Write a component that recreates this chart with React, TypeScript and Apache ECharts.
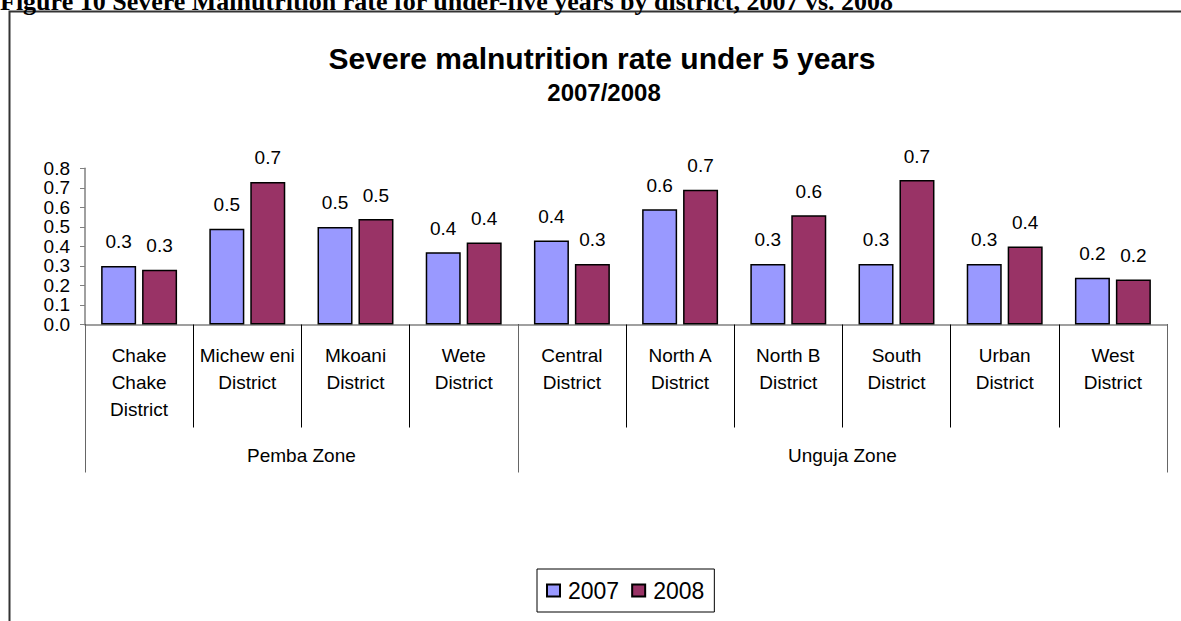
import React, { useEffect, useRef } from "react";
import * as echarts from "echarts";

const caption = "Figure 10 Severe Malnutrition rate for under-five years by district, 2007 vs. 2008";
const chartTitle = "Severe malnutrition rate under 5 years";
const chartSubtitle = "2007/2008";
const districts = [
  "Chake\nChake\nDistrict",
  "Michew eni\nDistrict",
  "Mkoani\nDistrict",
  "Wete\nDistrict",
  "Central\nDistrict",
  "North A\nDistrict",
  "North B\nDistrict",
  "South\nDistrict",
  "Urban\nDistrict",
  "West\nDistrict",
];
const zones = ["Pemba Zone", "Unguja Zone"];
const zoneSizes = [4, 6];
const seriesNames = ["2007", "2008"];
const values2007 = [0.3, 0.49, 0.5, 0.37, 0.43, 0.59, 0.31, 0.31, 0.31, 0.24];
const values2008 = [0.28, 0.73, 0.54, 0.42, 0.31, 0.69, 0.56, 0.74, 0.4, 0.23];
const yMin = 0;
const yMax = 0.8;
const yStep = 0.1;

const FONT = "'Liberation Sans', Arial, sans-serif";

export default function App() {
  const ref = useRef<HTMLDivElement>(null);
  useEffect(() => {
    if (!ref.current) return;
    const chart = echarts.init(ref.current, null, { renderer: "svg" });

    const zoneBounds: number[] = [0];
    const zoneCenters: number[] = [];
    zoneSizes.forEach((s) => {
      const start = zoneBounds[zoneBounds.length - 1];
      zoneCenters.push(start + s / 2);
      zoneBounds.push(start + s);
    });

    const labelStyle = {
      show: true,
      position: "top" as const,
      distance: 14,
      color: "#000",
      fontFamily: FONT,
      fontSize: 19,
      lineHeight: 20,
      formatter: (p: any) => Number(p.value).toFixed(1),
    };

    chart.setOption({
      animation: false,
      backgroundColor: "#fff",
      textStyle: { fontFamily: FONT },
      grid: { left: 85, right: 14, top: 168.3, bottom: 296.5, containLabel: false },
      legend: {
        data: seriesNames,
        left: 537,
        top: 569,
        orient: "horizontal",
        icon: "rect",
        itemWidth: 13,
        itemHeight: 12,
        itemGap: 12,
        padding: [10, 10, 10, 9],
        borderColor: "#000",
        borderWidth: 1,
        textStyle: { fontSize: 23, color: "#000", fontFamily: FONT, lineHeight: 23, padding: [0, 0, 0, 3] },
      },
      xAxis: [
        {
          type: "category",
          data: districts,
          position: "bottom",
          axisLine: { show: true, lineStyle: { color: "#808080", width: 1.5 } },
          axisTick: { show: true, length: 103, interval: 0, lineStyle: { color: "#000", width: 1 } },
          axisLabel: {
            interval: 0,
            margin: 17,
            color: "#000",
            fontFamily: FONT,
            fontSize: 19,
            lineHeight: 27,
          },
        },
        {
          type: "value",
          position: "bottom",
          min: 0,
          max: zoneBounds[zoneBounds.length - 1],
          axisLine: { show: false },
          splitLine: { show: false },
          axisTick: {
            show: true,
            length: 148,
            customValues: zoneBounds,
            lineStyle: { color: "#666", width: 1 },
          },
          axisLabel: {
            show: true,
            customValues: zoneCenters,
            margin: 121,
            color: "#000",
            fontFamily: FONT,
            fontSize: 19,
            lineHeight: 19,
            formatter: (v: number) => {
              const i = zoneCenters.findIndex((c) => Math.abs(c - v) < 1e-6);
              return i >= 0 ? zones[i] : "";
            },
          },
        },
      ],
      yAxis: {
        type: "value",
        min: yMin,
        max: yMax,
        interval: yStep,
        axisLine: { show: true, lineStyle: { color: "#808080", width: 1.5 } },
        axisTick: { show: true, length: 5, lineStyle: { color: "#808080" } },
        splitLine: { show: false },
        axisLabel: {
          margin: 15,
          color: "#000",
          fontFamily: FONT,
          fontSize: 19,
          formatter: (v: number) => v.toFixed(1),
        },
      },
      series: [
        {
          name: seriesNames[0],
          type: "bar",
          data: values2007,
          barWidth: 35,
          barGap: "17%",
          itemStyle: { color: "#9999FF", borderColor: "#000", borderWidth: 1.5 },
          label: labelStyle,
        },
        {
          name: seriesNames[1],
          type: "bar",
          data: values2008,
          barWidth: 35,
          barGap: "17%",
          itemStyle: { color: "#993366", borderColor: "#000", borderWidth: 1.5 },
          label: labelStyle,
        },
      ],
      graphic: [
        {
          type: "rect",
          shape: { x: 9.5, y: 11.5, width: 1200, height: 700 },
          style: { fill: "none", stroke: "#333", lineWidth: 2 },
          silent: true,
        },
        {
          type: "text",
          x: 0,
          y: 14,
          style: {
            text: caption,
            font: "bold 26px 'Liberation Serif', 'Times New Roman', serif",
            fill: "#000",
            textAlign: "left",
            textVerticalAlign: "bottom",
          },
        },
        {
          type: "text",
          x: 602,
          y: 58,
          style: {
            text: chartTitle,
            font: `bold 30px ${FONT}`,
            fill: "#000",
            textAlign: "center",
            textVerticalAlign: "middle",
          },
        },
        {
          type: "text",
          x: 604,
          y: 92,
          style: {
            text: chartSubtitle,
            font: `bold 24px ${FONT}`,
            fill: "#000",
            textAlign: "center",
            textVerticalAlign: "middle",
          },
        },
      ],
    });
    return () => chart.dispose();
  }, []);
  return (
    <div
      ref={ref}
      style={{ position: "absolute", left: 0, top: 0, width: 1181, height: 621 }}
    />
  );
}
